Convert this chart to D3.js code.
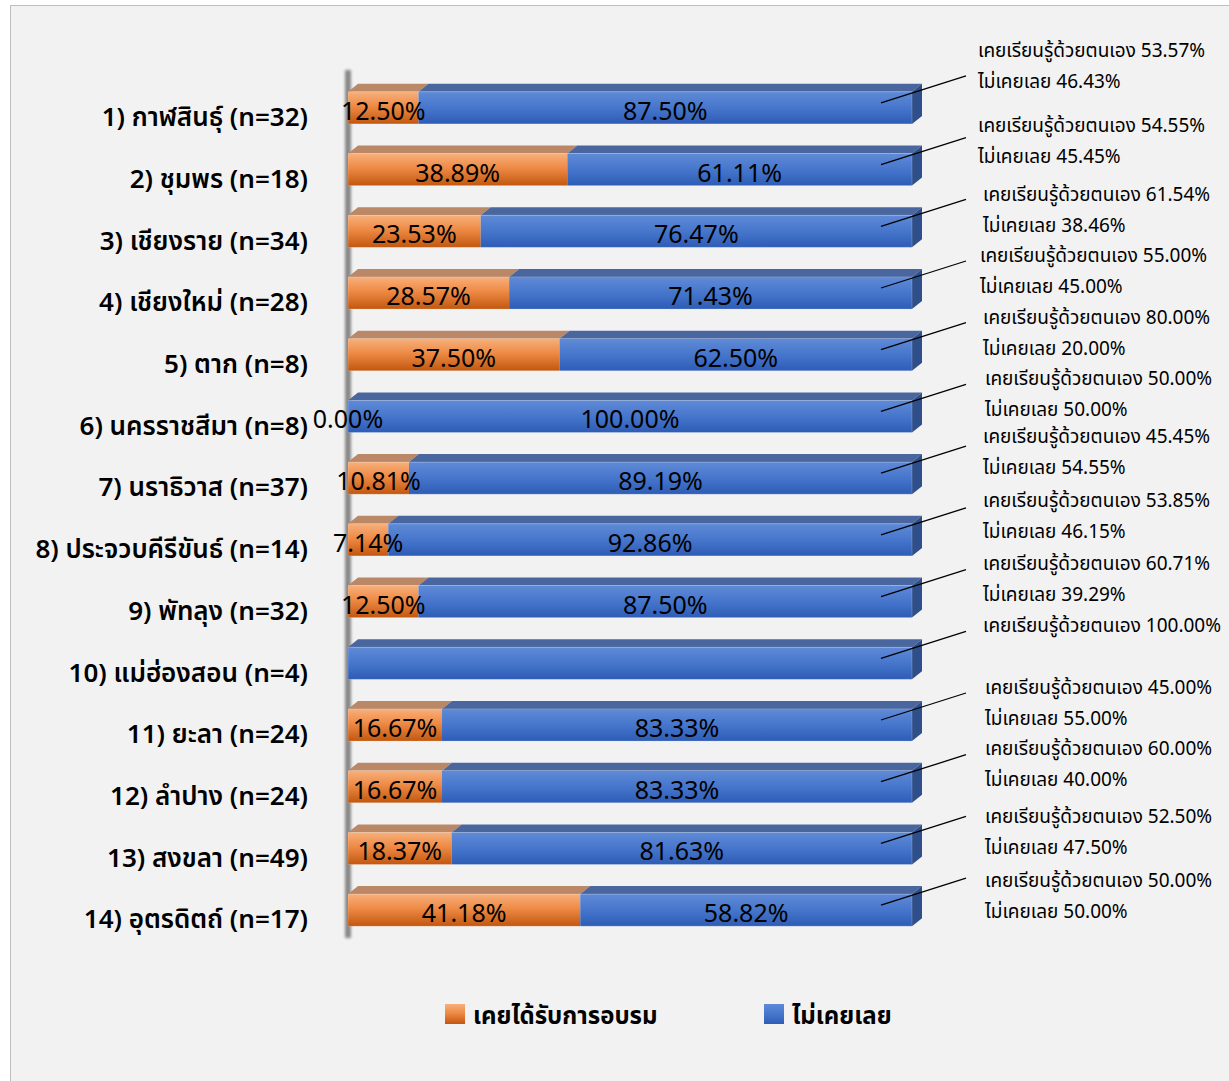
<!DOCTYPE html>
<html><head><meta charset="utf-8">
<script src="https://cdn.jsdelivr.net/npm/d3@7"></script>
<style>
html,body{margin:0;padding:0;background:#fff;}
svg{display:block;}
</style>
</head><body>
<svg id="chart" width="1229" height="1081"></svg>
<script>
// ---------- DATA ----------
const categories = [
  "1) กาฬสินธุ์ (n=32)",
  "2) ชุมพร (n=18)",
  "3) เชียงราย (n=34)",
  "4) เชียงใหม่ (n=28)",
  "5) ตาก (n=8)",
  "6) นครราชสีมา (n=8)",
  "7) นราธิวาส (n=37)",
  "8) ประจวบคีรีขันธ์ (n=14)",
  "9) พัทลุง (n=32)",
  "10) แม่ฮ่องสอน (n=4)",
  "11) ยะลา (n=24)",
  "12) ลำปาง (n=24)",
  "13) สงขลา (n=49)",
  "14) อุตรดิตถ์ (n=17)"
];
const trained = [12.50, 38.89, 23.53, 28.57, 37.50, 0.00, 10.81, 7.14, 12.50, 0.00, 16.67, 16.67, 18.37, 41.18];
const never   = [87.50, 61.11, 76.47, 71.43, 62.50, 100.00, 89.19, 92.86, 87.50, 100.00, 83.33, 83.33, 81.63, 58.82];
const showBarLabels = [true,true,true,true,true,true,true,true,true,false,true,true,true,true];
const selfLearn = [53.57, 54.55, 61.54, 55.00, 80.00, 50.00, 45.45, 53.85, 60.71, 100.00, 45.00, 60.00, 52.50, 50.00];
const notEver   = [46.43, 45.45, 38.46, 45.00, 20.00, 50.00, 54.55, 46.15, 39.29, null, 55.00, 40.00, 47.50, 50.00];
const seriesNames = ["เคยได้รับการอบรม", "ไม่เคยเลย"];
const selfLabel = "เคยเรียนรู้ด้วยตนเอง";
const notLabel = "ไม่เคยเลย";

// small layout nudges for annotation placement (styling only)
const noteDy = [-19,-6,1,1,1,0,-3,-1,0,0,1,0,6,9];
const noteDx = [-5,-5,0,-3,0,2,0,0,0,0,2,2,2,2];

// ---------- SETUP ----------
const svg = d3.select("#chart");
const W = 1229, H = 1081;
const FONT = "'Noto Sans Thai','Noto Sans','Lato',sans-serif";

svg.append("rect").attr("width", W).attr("height", H).attr("fill", "#ffffff");
svg.append("rect").attr("x", 10.5).attr("y", 5.5).attr("width", W).attr("height", H)
  .attr("fill", "#f2f2f2").attr("stroke", "#bfbfbf").attr("stroke-width", 1);

const defs = svg.append("defs");
function vgrad(id, stops) {
  const g = defs.append("linearGradient").attr("id", id).attr("x1", 0).attr("y1", 0).attr("x2", 0).attr("y2", 1);
  stops.forEach(s => g.append("stop").attr("offset", s[0]).attr("stop-color", s[1]));
}
vgrad("gOrange", [[0, "#f7b07c"], [0.45, "#ee8a45"], [1, "#c2570f"]]);
vgrad("gBlue", [[0, "#5f8ad6"], [0.5, "#4676cc"], [1, "#2e5cb6"]]);
defs.append("filter").attr("id", "blur").attr("x", "-50%").attr("width", "200%")
  .append("feGaussianBlur").attr("stdDeviation", 1.8);
defs.append("clipPath").attr("id", "clipWall").append("rect")
  .attr("x", 348).attr("y", 0).attr("width", 900).attr("height", H);

const x = d3.scaleLinear().domain([0, 100]).range([348, 912]);
const y = d3.scaleBand().domain(categories).range([77, 941]).paddingInner(0.48).paddingOuter(0.24);
const bh = y.bandwidth();
const DX = 10, DY = 8;

// wall shadow (3D axis edge)
svg.append("rect").attr("x", 345).attr("y", 70).attr("width", 6).attr("height", 868)
  .attr("fill", "#5a5a5a").attr("opacity", 0.7).attr("filter", "url(#blur)");

// ---------- BARS ----------
const rows = categories.map((c, i) => ({c, i, t: trained[i], n: never[i]}));
const g = svg.append("g");

rows.forEach(r => {
  const y0 = y(r.c);
  const segs = [
    {a: 0, b: r.t, front: "url(#gOrange)", top: "#ba8767"},
    {a: r.t, b: r.t + r.n, front: "url(#gBlue)", top: "#4a669e"}
  ];
  const gg = g.append("g").attr("clip-path", "url(#clipWall)");
  segs.forEach(s => {
    if (s.b - s.a <= 0) return;
    const x0 = x(s.a), x1 = x(s.b);
    gg.append("path")
      .attr("d", `M${x0},${y0} L${x0 + DX},${y0 - DY} L${x1 + DX},${y0 - DY} L${x1},${y0} Z`)
      .attr("fill", s.top);
    gg.append("rect").attr("x", x0).attr("y", y0).attr("width", x1 - x0).attr("height", bh)
      .attr("fill", s.front);
  });
  const xe = x(r.t + r.n);
  gg.append("path")
    .attr("d", `M${xe},${y0} L${xe + DX},${y0 - DY} L${xe + DX},${y0 + bh - DY} L${xe},${y0 + bh} Z`)
    .attr("fill", "#2f4f8b");
  gg.append("rect").attr("x", x(0)).attr("y", y0).attr("width", xe - x(0)).attr("height", bh)
    .attr("fill", "none").attr("stroke", "#ffffff").attr("stroke-opacity", 0.25).attr("stroke-width", 0.8);
});

// ---------- BAR LABELS ----------
rows.forEach(r => {
  if (!showBarLabels[r.i]) return;
  const cy = y(r.c) + bh / 2 + 5;
  svg.append("text").attr("x", x(r.t / 2)).attr("y", cy)
    .attr("text-anchor", "middle").attr("dominant-baseline", "middle")
    .attr("font-family", FONT).attr("font-size", 25).attr("fill", "#000")
    .text(r.t.toFixed(2) + "%");
  svg.append("text").attr("x", x(r.t + r.n / 2)).attr("y", cy)
    .attr("text-anchor", "middle").attr("dominant-baseline", "middle")
    .attr("font-family", FONT).attr("font-size", 25).attr("fill", "#000")
    .text(r.n.toFixed(2) + "%");
});

// ---------- CATEGORY LABELS ----------
svg.append("g").selectAll("text").data(categories).join("text")
  .attr("x", 308).attr("y", d => y(d) + bh / 2 + 11)
  .attr("text-anchor", "end").attr("dominant-baseline", "middle")
  .attr("font-family", FONT).attr("font-size", 26).attr("font-weight", 600).attr("fill", "#000")
  .text(d => d);

// ---------- ANNOTATIONS ----------
rows.forEach(r => {
  const c = y(r.c) + bh / 2;
  svg.append("line").attr("x1", 881).attr("y1", c - 5).attr("x2", 966).attr("y2", c - 32)
    .attr("stroke", "#000").attr("stroke-width", 1.3);
  const tx = 983 + noteDx[r.i];
  const ty = c - 37 + noteDy[r.i];
  svg.append("text").attr("x", tx).attr("y", ty).attr("dominant-baseline", "middle")
    .attr("font-family", FONT).attr("font-size", 19).attr("fill", "#000")
    .text(selfLabel + " " + selfLearn[r.i].toFixed(2) + "%");
  if (notEver[r.i] !== null) {
    svg.append("text").attr("x", tx).attr("y", ty + 31).attr("dominant-baseline", "middle")
      .attr("font-family", FONT).attr("font-size", 19).attr("fill", "#000")
      .text(notLabel + " " + notEver[r.i].toFixed(2) + "%");
  }
});

// ---------- LEGEND ----------
const legendX = [445, 764];
const legendFill = ["url(#gOrange)", "url(#gBlue)"];
seriesNames.forEach((s, i) => {
  svg.append("rect").attr("x", legendX[i]).attr("y", 1004).attr("width", 20).attr("height", 20)
    .attr("fill", legendFill[i]);
  svg.append("text").attr("x", legendX[i] + 28).attr("y", 1017).attr("dominant-baseline", "middle")
    .attr("font-family", FONT).attr("font-size", 24).attr("font-weight", "bold").attr("fill", "#000")
    .text(s);
});
</script>
</body></html>
